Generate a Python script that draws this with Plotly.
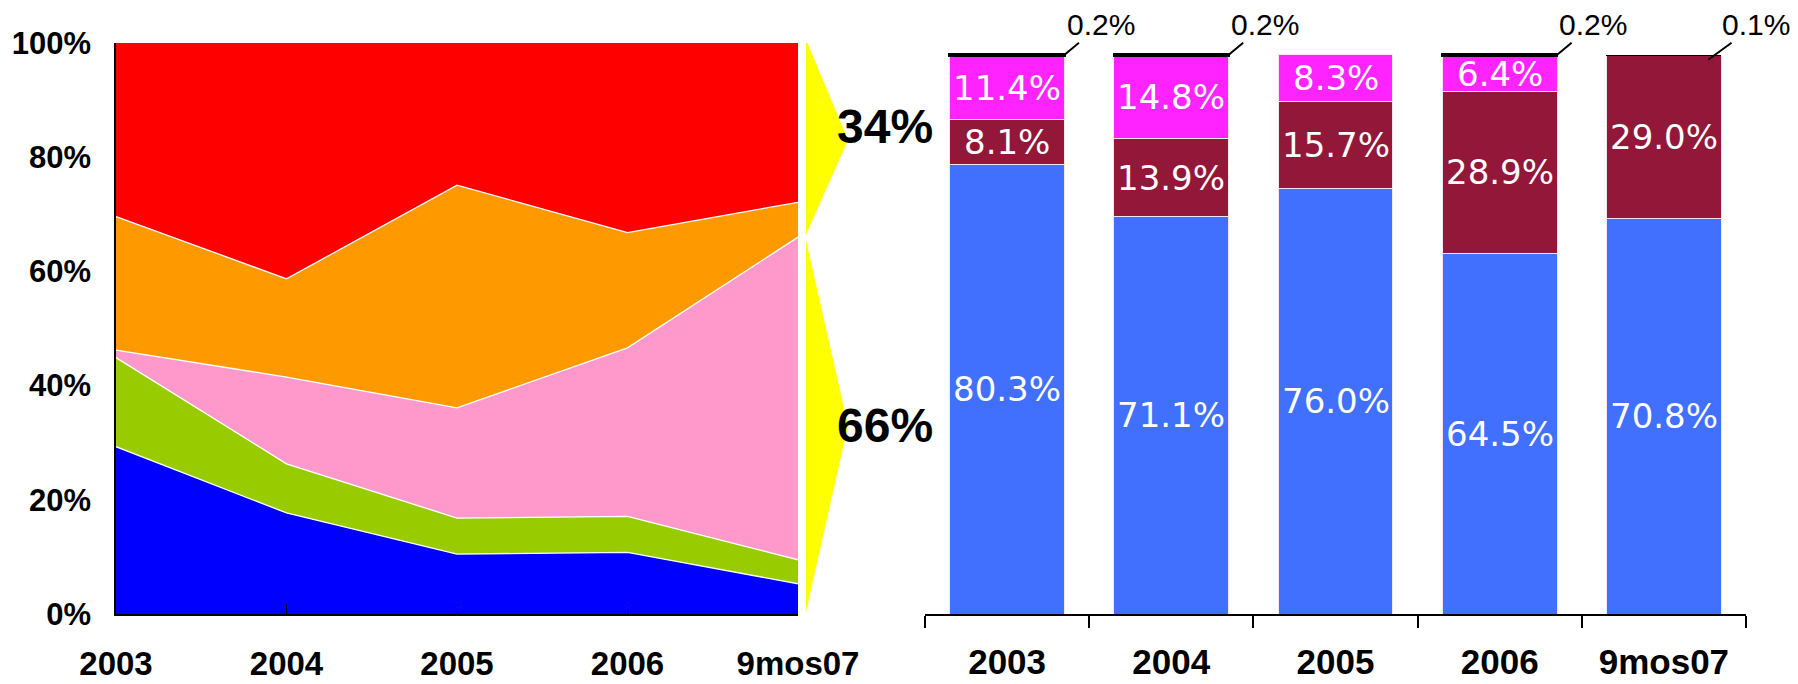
import plotly.graph_objects as go

# ---------------- data ----------------
years = ["2003", "2004", "2005", "2006", "9mos07"]

# left chart: stacked shares (%) bottom -> top
area_blue = [29.3, 17.7, 10.5, 10.8, 5.3]
area_green = [15.6, 8.6, 6.3, 6.3, 4.2]
area_pink = [1.3, 15.2, 19.3, 29.5, 56.5]
area_orange = [23.4, 17.2, 39.0, 20.2, 6.1]
area_red = [30.4, 41.3, 24.9, 33.2, 27.9]

# right chart: stacked bars (%) bottom -> top
bar_blue = [80.3, 71.1, 76.0, 64.5, 70.8]
bar_maroon = [8.1, 13.9, 15.7, 28.9, 29.0]
bar_magenta = [11.4, 14.8, 8.3, 6.4, 0.0]
bar_black = [0.2, 0.2, 0.0, 0.2, 0.1]

# ---------------- figure ----------------
OFF = 8                      # page body margin
W, H = 1798 - OFF, 684 - OFF


def px(x):                   # page x pixel -> paper fraction
    return (x - OFF) / W


fig = go.Figure()

area_series = [
    (area_blue, "#0000FF"),
    (area_green, "#99CC00"),
    (area_pink, "#FF99CC"),
    (area_orange, "#FF9900"),
    (area_red, "#FF0000"),
]
for i, (vals, col) in enumerate(area_series):
    last = i == len(area_series) - 1
    fig.add_trace(go.Scatter(
        x=years, y=vals, stackgroup="area", mode="lines",
        fillcolor=col,
        line=dict(color="white", width=0 if last else 1.3),
        xaxis="x", yaxis="y", hoverinfo="skip",
    ))

bar_series = [
    (bar_blue, "#4170FF"),
    (bar_maroon, "#921739"),
    (bar_magenta, "#FF24FF"),
]
for vals, col in bar_series:
    fig.add_trace(go.Bar(
        x=years, y=vals, marker=dict(color=col, line=dict(color="#F4E6F0", width=1)),
        xaxis="x2", yaxis="y2", hoverinfo="skip",
    ))
fig.add_trace(go.Bar(
    x=years, y=bar_black,
    marker=dict(color="black", line=dict(color="black",
                                         width=[2.5 if v >= 0.2 else 0 for v in bar_black])),
    xaxis="x2", yaxis="y2", hoverinfo="skip",
))

annotations = []
# labels inside bars
bar_font = dict(family="DejaVu Sans", size=34, color="white")
for i in range(len(years)):
    base = 0.0
    for vals, _ in bar_series:
        v = vals[i]
        if v > 0:
            annotations.append(dict(
                x=i, y=base + v / 2, xref="x2", yref="y2", text=f"{v:.1f}%",
                showarrow=False, font=bar_font, xanchor="center", yanchor="middle",
            ))
        base += v

# small top segment labels with leader lines
for i in range(len(years)):
    v = bar_black[i]
    if v <= 0:
        continue
    total = bar_blue[i] + bar_maroon[i] + bar_magenta[i] + v
    last = i == len(years) - 1
    annotations.append(dict(
        x=i + (0.27 if last else 0.35), y=total - (0.8 if last else 0),
        xref="x2", yref="y2", text=f"{v:.1f}%",
        showarrow=True, arrowhead=0, arrowwidth=2, arrowcolor="black",
        ax=48 if last else 36, ay=-35 if last else -30,
        font=dict(family="Liberation Sans", size=30, color="black"),
    ))

# yellow brackets + share labels
split = area_blue[-1] + area_green[-1] + area_pink[-1]
upper = 100 - split
x0p, x1p = px(806), px(848)
shapes = [
    dict(type="path", xref="paper", yref="y",
         path=f"M {x0p} 100.6 L {x1p} {(100 + split) / 2} L {x0p} {split + 0.4} Z",
         fillcolor="#FFFF00", line=dict(width=0), layer="above"),
    dict(type="path", xref="paper", yref="y",
         path=f"M {x0p} {split - 0.5} L {x1p} {split / 2} L {x0p} 0.4 Z",
         fillcolor="#FFFF00", line=dict(width=0), layer="above"),
]
big_font = dict(family="Liberation Sans", size=48, color="black", weight="bold")
annotations.append(dict(x=px(885), y=(100 + split) / 2 + 2.3, xref="paper", yref="y",
                        text=f"{upper:.0f}%", showarrow=False, font=big_font))
annotations.append(dict(x=px(885), y=split / 2, xref="paper", yref="y",
                        text=f"{split:.0f}%", showarrow=False, font=big_font))

tick_font = dict(family="Liberation Sans", size=33, color="black", weight="bold")
fig.update_layout(
    width=W, height=H,
    margin=dict(l=0, r=0, t=43 - OFF, b=684 - 614, autoexpand=False),
    paper_bgcolor="white", plot_bgcolor="white",
    showlegend=False, barmode="stack", bargap=0.3,
    xaxis=dict(domain=[px(116), px(798)], type="category", range=[0, 4],
               anchor="y", automargin=False,
               showline=True, linecolor="black", linewidth=1.5,
               ticks="inside", ticklen=10, tickcolor="black",
               showgrid=False, zeroline=False, tickfont=tick_font,
               ticklabelstandoff=20),
    yaxis=dict(domain=[0, 1], range=[0, 100], showline=True, linecolor="black",
               anchor="x", automargin=False,
               linewidth=1.5, tickvals=[0, 20, 40, 60, 80, 100],
               ticktext=["0%", "20%", "40%", "60%", "80%", "100%"],
               ticks="", showgrid=False, zeroline=False,
               tickfont=dict(tick_font, size=31),
               ticklabelstandoff=17),
    xaxis2=dict(domain=[px(925), px(1746)], type="category", range=[-0.5, 4.5],
                anchor="y2", automargin=False,
                showline=True, linecolor="black", linewidth=1.5,
                ticks="outside", ticklen=12, tickcolor="black", tickwidth=1.5,
                tickson="boundaries", showgrid=False, zeroline=False,
                tickfont=dict(tick_font, size=35), ticklabelstandoff=16),
    yaxis2=dict(domain=[0, 1], range=[0, 102.1], visible=False, anchor="x2",
                automargin=False),
    shapes=shapes, annotations=annotations,
)

fig.write_html("out.html")
